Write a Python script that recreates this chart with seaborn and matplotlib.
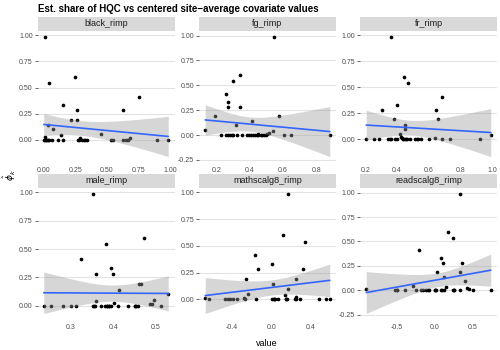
import numpy as np
import pandas as pd
import matplotlib
matplotlib.use("Agg")
import matplotlib.pyplot as plt
import seaborn as sns

# ---- data ----
share_hqc = [0.99, 0.60, 0.54, 0.41, 0.33, 0.28, 0.28, 0.19, 0.19, 0.14, 0.10,
             0.05, 0.04, 0.025, 0.015, 0.015] + [0.0] * 22

black_rimp = [0.01, 0.25, 0.045, 0.75, 0.155, 0.265, 0.63, 0.215, 0.26, 0.03, 0.075,
              0.45, 0.135, 0.01, 0.29, 0.68,
              0.0, 0.01, 0.015, 0.025, 0.035, 0.045, 0.065, 0.11, 0.15, 0.27, 0.28,
              0.30, 0.315, 0.33, 0.34, 0.535, 0.545, 0.63, 0.65, 0.665, 0.895, 0.985]
fg_rimp = [0.546, 0.344, 0.302, 0.26, 0.268, 0.272, 0.34, 0.194, 0.574, 0.412, 0.318,
           0.134, 0.54, 0.516, 0.506, 0.452,
           0.226, 0.26, 0.27, 0.282, 0.292, 0.302, 0.324, 0.356, 0.386, 0.396, 0.408,
           0.42, 0.43, 0.442, 0.45, 0.468, 0.476, 0.486, 0.496, 0.604, 0.648, 0.88]
fr_rimp = [0.364, 0.446, 0.472, 0.684, 0.397, 0.308, 0.648, 0.38, 0.658, 0.449, 0.449,
           0.418, 0.99, 0.425, 0.433, 0.637,
           0.206, 0.258, 0.289, 0.345, 0.354, 0.362, 0.384, 0.397, 0.438, 0.44, 0.449,
           0.455, 0.46, 0.481, 0.514, 0.524, 0.535, 0.552, 0.6, 0.686, 0.736, 0.92]
male_rimp = [0.352, 0.472, 0.382, 0.324, 0.395, 0.36, 0.40, 0.46, 0.465, 0.413, 0.529,
             0.496, 0.36, 0.402, 0.49, 0.485,
             0.237, 0.255, 0.283, 0.302, 0.312, 0.352, 0.356, 0.358, 0.371, 0.381, 0.385,
             0.386, 0.39, 0.391, 0.395, 0.41, 0.434, 0.45, 0.452, 0.454, 0.457, 0.513]
mathscalg8_rimp = [0.167, 0.116, 0.347, -0.167, 0.007, -0.136, 0.327, -0.255, 0.255, 0.014,
                   0.167, -0.238, 0.14, 0.249, -0.67, -0.272,
                   -0.633, -0.466, -0.44, -0.415, -0.388, -0.351, -0.262, -0.153, 0.007,
                   0.024, 0.03, 0.041, 0.071, 0.15, 0.155, 0.16, 0.242, 0.252, 0.293,
                   0.487, 0.558, 0.596]
readscalg8_rimp = [0.332, 0.18, 0.238, -0.21, 0.085, 0.108, 0.363, 0.027, 0.336, 0.13,
                   0.40, -0.28, 0.148, 0.426, 0.45, -0.90,
                   -0.516, -0.5, -0.493, -0.39, -0.247, -0.18, -0.157, -0.112, -0.09,
                   -0.072, 0.0, 0.005, 0.018, 0.09, 0.1, 0.121, 0.242, 0.25, 0.26, 0.336,
                   0.502, 0.74]

panel_names = ["black_rimp", "fg_rimp", "fr_rimp", "male_rimp",
               "mathscalg8_rimp", "readscalg8_rimp"]
covariates = [black_rimp, fg_rimp, fr_rimp, male_rimp, mathscalg8_rimp, readscalg8_rimp]

x_ticks = [[0.0, 0.25, 0.5, 0.75, 1.0], [0.2, 0.4, 0.6, 0.8], [0.2, 0.4, 0.6, 0.8, 1.0],
           [0.3, 0.4, 0.5], [-0.4, 0.0, 0.4], [-0.5, 0.0, 0.5]]
x_fmt = ["{:.2f}", "{:.1f}", "{:.1f}", "{:.1f}", "{:.1f}", "{:.1f}"]
y_ticks = [-0.25, 0.0, 0.25, 0.5, 0.75, 1.0]

long = pd.DataFrame({
    "variable": np.repeat(panel_names, len(share_hqc)),
    "value": np.concatenate([np.asarray(c, float) for c in covariates]),
    "share": np.tile(np.asarray(share_hqc, float), len(panel_names)),
})


def t975(df):
    try:
        from scipy import stats
        return float(stats.t.ppf(0.975, df))
    except Exception:
        z = 1.959963985
        g1 = (z ** 3 + z) / 4
        g2 = (5 * z ** 5 + 16 * z ** 3 + 3 * z) / 96
        g3 = (3 * z ** 7 + 19 * z ** 5 + 17 * z ** 3 - 15 * z) / 384
        return z + g1 / df + g2 / df ** 2 + g3 / df ** 3


def lm_band(x, y, grid):
    x = np.asarray(x, float)
    y = np.asarray(y, float)
    n = len(x)
    b1, b0 = np.polyfit(x, y, 1)
    resid = y - (b0 + b1 * x)
    s = np.sqrt(np.sum(resid ** 2) / (n - 2))
    sxx = np.sum((x - x.mean()) ** 2)
    se = s * np.sqrt(1.0 / n + (grid - x.mean()) ** 2 / sxx)
    fit = b0 + b1 * grid
    t = t975(n - 2)
    return fit - t * se, fit + t * se


# ---- figure ----
sns.set_style("white")
plt.rcParams["font.family"] = ["Liberation Sans", "DejaVu Sans"]
plt.rcParams["axes.unicode_minus"] = False

W, H = 500, 350
fig = plt.figure(figsize=(5, 3.5), dpi=100)
fig.patch.set_facecolor("white")

col_x = [(37.5, 174.5), (199.0, 336.0), (360.0, 497.0)]
row_y = [(30.5, 162.5), (187.5, 319.5)]
strip_h = 13.5

for i, name in enumerate(panel_names):
    r, c = divmod(i, 3)
    x0, x1 = col_x[c]
    y0, y1 = row_y[r]
    ax = fig.add_axes([x0 / W, 1 - y1 / H, (x1 - x0) / W, (y1 - y0) / H])
    sub = long[long["variable"] == name]
    sns.regplot(data=sub, x="value", y="share", ax=ax, ci=None,
                color="black",
                scatter_kws=dict(s=7, color="black", linewidths=0, alpha=1, zorder=1),
                line_kws=dict(color="#3366FF", lw=1.2, zorder=3))
    grid = np.linspace(sub["value"].min(), sub["value"].max(), 100)
    lo, hi = lm_band(sub["value"].to_numpy(), sub["share"].to_numpy(), grid)
    ax.fill_between(grid, lo, hi, facecolor="#999999", alpha=0.4, linewidth=0, zorder=2)
    ax.margins(x=0.05, y=0.05)
    ax.autoscale_view()
    ax.set_xticks(x_ticks[i])
    ax.set_xticklabels([x_fmt[i].format(v) for v in x_ticks[i]])
    ylo, yhi = ax.get_ylim()
    yt = [v for v in y_ticks if ylo <= v <= yhi]
    ax.set_yticks(yt)
    ax.set_yticklabels(["{:.2f}".format(v) for v in yt])
    ax.set_ylim(ylo, yhi)
    ax.set_xlabel("")
    ax.set_ylabel("")
    ax.grid(axis="y", color="#e3e3e3", lw=0.8)
    ax.grid(axis="x", visible=False)
    ax.set_axisbelow(True)
    for s in ax.spines.values():
        s.set_visible(False)
    ax.tick_params(axis="y", length=2, width=0.6, color="#4d4d4d", pad=1.5,
                   labelsize=5, labelcolor="#4d4d4d", left=True)
    ax.tick_params(axis="x", length=0, pad=3.5, labelsize=5, labelcolor="#4d4d4d")
    # strip
    sax = fig.add_axes([x0 / W, 1 - y0 / H, (x1 - x0) / W, strip_h / H])
    sax.set_facecolor("#d9d9d9")
    sax.set_xticks([])
    sax.set_yticks([])
    for s in sax.spines.values():
        s.set_visible(False)
    sax.text(0.5, 0.5, name, ha="center", va="center", fontsize=6.5, color="#1a1a1a",
             transform=sax.transAxes)

fig.text(38 / W, 1 - 9 / H, "Est. share of HQC vs centered site\u2212average covariate values",
         ha="left", va="center", fontsize=7, fontweight="bold", color="black")
fig.text(267 / W, 1 - 343 / H, "value", ha="center", va="center", fontsize=6.5,
         color="black")
fig.text(10 / W, 1 - 175 / H, r"$\hat{\phi}_k$", ha="center", va="center", fontsize=6.5,
         rotation=90, color="black")

fig.savefig("out.png", dpi=100, facecolor="white")
